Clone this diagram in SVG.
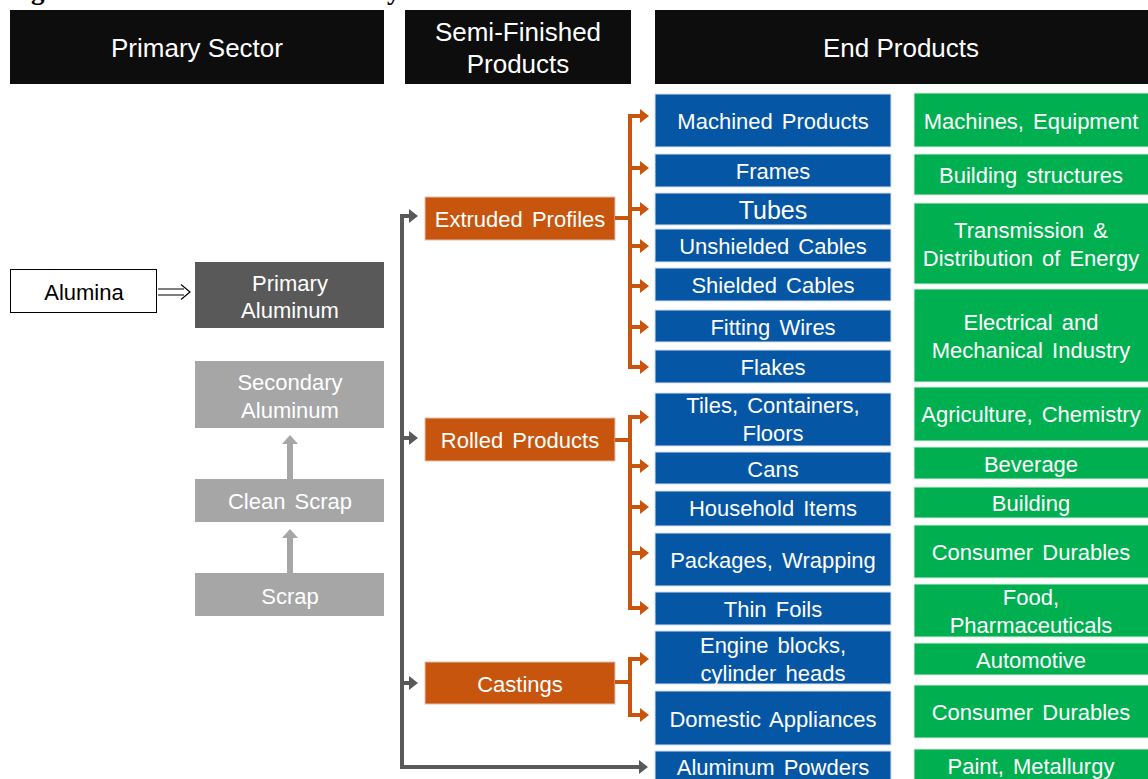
<svg xmlns="http://www.w3.org/2000/svg" width="1148" height="779" viewBox="0 0 1148 779">
<style>
text{font-family:"Liberation Sans",Arial,sans-serif;text-anchor:middle;dominant-baseline:central;fill:#fff;font-size:22px;word-spacing:3px}
.hdr{fill:#0d0d0d}
.hdr-t{font-size:26px;word-spacing:0}
.blue{fill:#0656a6;stroke:#d9e2ee;stroke-width:1}
.green{fill:#00b050;stroke:#d9eee0;stroke-width:1}
.orange{fill:#c8550e;stroke:#e6c0a8;stroke-width:1}
.dk{fill:#595959}
.lt{fill:#a6a6a6}
.oc{stroke:#c8550e;stroke-width:4;fill:none}
.gc{stroke:#595959;stroke-width:4;fill:none}
.title{font-family:"Liberation Serif","Times New Roman",serif;font-weight:bold;fill:#000;font-size:27px;text-anchor:start;dominant-baseline:alphabetic;word-spacing:0}
</style>
<defs>
<marker id="ah-o" markerUnits="userSpaceOnUse" markerWidth="9" markerHeight="14" refX="0" refY="7" orient="auto" viewBox="0 0 9 14"><path d="M0,0 L9,7 L0,14 Z" fill="#c8550e"/></marker>
<marker id="ah-g" markerUnits="userSpaceOnUse" markerWidth="9" markerHeight="14" refX="0" refY="7" orient="auto" viewBox="0 0 9 14"><path d="M0,0 L9,7 L0,14 Z" fill="#595959"/></marker>
<marker id="ah-l" markerUnits="userSpaceOnUse" markerWidth="16" markerHeight="9" refX="8" refY="9" viewBox="0 0 16 9"><path d="M0,9 L8,0 L16,9 Z" fill="#a6a6a6"/></marker>
</defs>
<text class="title" x="7" y="-1">Figure 1: The Aluminum Industry Value Chain</text>

<g id="hdr-primary"><rect class="hdr" x="10" y="10" width="374" height="74"/><text class="hdr-t" x="197" y="48">Primary Sector</text></g>
<g id="hdr-semi"><rect class="hdr" x="405" y="10" width="226" height="74"/><text class="hdr-t" x="518" y="32">Semi-Finished</text><text class="hdr-t" x="518" y="64">Products</text></g>
<g id="hdr-end"><rect class="hdr" x="655" y="10" width="493" height="74"/><text class="hdr-t" x="901" y="48">End Products</text></g>

<g id="alumina"><rect x="10.5" y="269.5" width="146" height="43" fill="#fff" stroke="#000" stroke-width="1"/><text x="84" y="292" style="fill:#000;word-spacing:0">Alumina</text></g>
<g id="alumina-arrow"><path d="M158,289 H184 M158,295 H184 M181,284.5 L190,292 L181,299.5" fill="none" stroke="#000" stroke-width="1.2"/></g>

<g id="primary-al"><rect class="dk" x="195" y="262" width="189" height="66"/><text x="290" y="283">Primary</text><text x="290" y="310">Aluminum</text></g>
<g id="secondary-al"><rect class="lt" x="195" y="361" width="189" height="67"/><text x="290" y="382">Secondary</text><text x="290" y="410">Aluminum</text></g>
<g id="clean-scrap"><rect class="lt" x="195" y="479" width="189" height="43"/><text x="290" y="501">Clean Scrap</text></g>
<g id="scrap"><rect class="lt" x="195" y="573" width="189" height="43"/><text x="290" y="596">Scrap</text></g>

<g id="extruded"><rect class="orange" x="425" y="197" width="190" height="43"/><text x="520" y="219">Extruded Profiles</text></g>
<g id="rolled"><rect class="orange" x="425" y="418" width="190" height="43"/><text x="520" y="440">Rolled Products</text></g>
<g id="castings"><rect class="orange" x="425" y="662" width="190" height="42"/><text x="520" y="684">Castings</text></g>

<g id="b-machined"><rect class="blue" x="655" y="94" width="236" height="53"/><text x="773" y="121">Machined Products</text></g>
<g id="b-frames"><rect class="blue" x="655" y="154" width="236" height="33"/><text x="773" y="171">Frames</text></g>
<g id="b-tubes"><rect class="blue" x="655" y="193" width="236" height="32"/><text x="773" y="210" style="font-size:25px">Tubes</text></g>
<g id="b-unshielded"><rect class="blue" x="655" y="229" width="236" height="33"/><text x="773" y="246">Unshielded Cables</text></g>
<g id="b-shielded"><rect class="blue" x="655" y="268" width="236" height="33"/><text x="773" y="285">Shielded Cables</text></g>
<g id="b-fitting"><rect class="blue" x="655" y="310" width="236" height="32"/><text x="773" y="327">Fitting Wires</text></g>
<g id="b-flakes"><rect class="blue" x="655" y="350" width="236" height="33"/><text x="773" y="367">Flakes</text></g>
<g id="b-tiles"><rect class="blue" x="655" y="393" width="236" height="53"/><text x="773" y="405">Tiles, Containers,</text><text x="773" y="433">Floors</text></g>
<g id="b-cans"><rect class="blue" x="655" y="452" width="236" height="32"/><text x="773" y="469">Cans</text></g>
<g id="b-household"><rect class="blue" x="655" y="491" width="236" height="35"/><text x="773" y="508">Household Items</text></g>
<g id="b-packages"><rect class="blue" x="655" y="533" width="236" height="53"/><text x="773" y="560">Packages, Wrapping</text></g>
<g id="b-foils"><rect class="blue" x="655" y="592" width="236" height="33"/><text x="773" y="609">Thin Foils</text></g>
<g id="b-engine"><rect class="blue" x="655" y="631" width="236" height="53"/><text x="773" y="645">Engine blocks,</text><text x="773" y="673">cylinder heads</text></g>
<g id="b-domestic"><rect class="blue" x="655" y="691" width="236" height="54"/><text x="773" y="719">Domestic Appliances</text></g>
<g id="b-powders"><rect class="blue" x="655" y="751" width="236" height="40"/><text x="773" y="767">Aluminum Powders</text></g>

<g id="g-machines"><rect class="green" x="914" y="93" width="240" height="54"/><text x="1031" y="121">Machines, Equipment</text></g>
<g id="g-building-structures"><rect class="green" x="914" y="154" width="240" height="41"/><text x="1031" y="175">Building structures</text></g>
<g id="g-transmission"><rect class="green" x="914" y="203" width="240" height="81"/><text x="1031" y="230">Transmission &amp;</text><text x="1031" y="258">Distribution of Energy</text></g>
<g id="g-electrical"><rect class="green" x="914" y="289" width="240" height="93"/><text x="1031" y="322">Electrical and</text><text x="1031" y="350">Mechanical Industry</text></g>
<g id="g-agriculture"><rect class="green" x="914" y="387" width="240" height="54"/><text x="1031" y="414">Agriculture, Chemistry</text></g>
<g id="g-beverage"><rect class="green" x="914" y="447" width="240" height="32"/><text x="1031" y="464">Beverage</text></g>
<g id="g-building"><rect class="green" x="914" y="487" width="240" height="31"/><text x="1031" y="503">Building</text></g>
<g id="g-consumer1"><rect class="green" x="914" y="525" width="240" height="53"/><text x="1031" y="552">Consumer Durables</text></g>
<g id="g-food"><rect class="green" x="914" y="584" width="240" height="53"/><text x="1031" y="597">Food,</text><text x="1031" y="625">Pharmaceuticals</text></g>
<g id="g-automotive"><rect class="green" x="914" y="643" width="240" height="32"/><text x="1031" y="660">Automotive</text></g>
<g id="g-consumer2"><rect class="green" x="914" y="685" width="240" height="53"/><text x="1031" y="712">Consumer Durables</text></g>
<g id="g-paint"><rect class="green" x="914" y="749" width="240" height="40"/><text x="1031" y="766">Paint, Metallurgy</text></g>

<g id="connectors">
<path class="gc" d="M402,767 V216 H409" marker-end="url(#ah-g)"/>
<path class="gc" d="M402,438 H409" marker-end="url(#ah-g)"/>
<path class="gc" d="M402,683 H409" marker-end="url(#ah-g)"/>
<path class="gc" d="M400,767 H639" marker-end="url(#ah-g)"/>
<path d="M290,479 V444" stroke="#a6a6a6" stroke-width="6" fill="none" marker-end="url(#ah-l)"/>
<path d="M290,573 V538" stroke="#a6a6a6" stroke-width="6" fill="none" marker-end="url(#ah-l)"/>

<path class="oc" d="M615,218 H630"/>
<path class="oc" d="M630,367 V116 H640" marker-end="url(#ah-o)"/>
<path class="oc" d="M630,168 H640" marker-end="url(#ah-o)"/>
<path class="oc" d="M630,209 H640" marker-end="url(#ah-o)"/>
<path class="oc" d="M630,246 H640" marker-end="url(#ah-o)"/>
<path class="oc" d="M630,286 H640" marker-end="url(#ah-o)"/>
<path class="oc" d="M630,327 H640" marker-end="url(#ah-o)"/>
<path class="oc" d="M628,367 H640" marker-end="url(#ah-o)"/>

<path class="oc" d="M615,440 H630"/>
<path class="oc" d="M630,608 V417 H640" marker-end="url(#ah-o)"/>
<path class="oc" d="M630,466 H640" marker-end="url(#ah-o)"/>
<path class="oc" d="M630,507 H640" marker-end="url(#ah-o)"/>
<path class="oc" d="M630,553 H640" marker-end="url(#ah-o)"/>
<path class="oc" d="M628,608 H640" marker-end="url(#ah-o)"/>

<path class="oc" d="M615,682 H630"/>
<path class="oc" d="M630,715 V659 H640" marker-end="url(#ah-o)"/>
<path class="oc" d="M628,715 H640" marker-end="url(#ah-o)"/>
</g>
</svg>
